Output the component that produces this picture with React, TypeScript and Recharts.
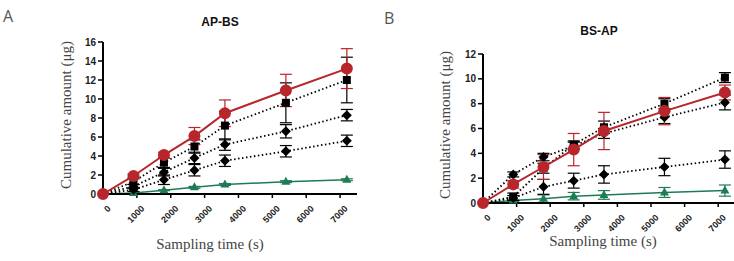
import React from "react";
import { LineChart, Line, XAxis, YAxis, ErrorBar } from "recharts";

const times = [0, 900, 1800, 2700, 3600, 5400, 7200];
const xTicks = [0, 1000, 2000, 3000, 4000, 5000, 6000, 7000];

// panel A: AP-BS
const apRed = [0, 1.9, 4.1, 6.1, 8.5, 10.9, 13.2];
const apRedErr = [0, 0.2, 0.3, 0.9, 1.4, 1.7, 2.1];
const apSquare = [0, 1.3, 3.3, 5.0, 7.2, 9.6, 12.0];
const apSquareErr = [0, 0.3, 0.5, 0.7, 1.5, 2.1, 2.4];
const apDiamond1 = [0, 0.8, 2.3, 3.8, 5.2, 6.6, 8.3];
const apDiamond1Err = [0, 0.2, 0.4, 0.6, 0.6, 0.7, 0.6];
const apDiamond2 = [0, 0.45, 1.5, 2.5, 3.5, 4.5, 5.6];
const apDiamond2Err = [0, 0.2, 0.5, 0.6, 0.6, 0.6, 0.6];
const apGreen = [0, 0.1, 0.4, 0.7, 1.0, 1.3, 1.5];
const apGreenErr = [0, 0, 0.05, 0.1, 0.1, 0.1, 0.1];
const apTicks = [0, 2, 4, 6, 8, 10, 12, 14, 16];

// panel B: BS-AP
const bsRed = [0, 1.5, 2.9, 4.3, 5.8, 7.4, 8.9];
const bsRedErr = [0, 0.3, 1.0, 1.3, 1.5, 1.1, 0.6];
const bsSquare = [0, 0.5, 2.8, 4.7, 6.1, 8.0, 10.1];
const bsSquareErr = [0, 0.3, 0.4, 0.3, 0.5, 0.4, 0.4];
const bsDiamond1 = [0, 2.3, 3.7, 4.6, 5.6, 6.9, 8.1];
const bsDiamond1Err = [0, 0.2, 0.3, 0.3, 0.4, 0.5, 0.6];
const bsDiamond2 = [0, 0.4, 1.3, 1.8, 2.3, 2.9, 3.5];
const bsDiamond2Err = [0, 0.2, 0.6, 0.6, 0.7, 0.7, 0.7];
const bsGreen = [0, 0.2, 0.35, 0.55, 0.65, 0.85, 1.0];
const bsGreenErr = [0, 0.05, 0.3, 0.3, 0.35, 0.4, 0.45];
const bsTicks = [0, 2, 4, 6, 8, 10, 12];

const RED = "#b8262b";
const GREEN = "#1e7c55";
const SANS = "Arial, 'Liberation Sans', sans-serif";
const SERIF = "'Liberation Serif', 'Times New Roman', serif";

function buildRows(r: number[], re: number[], s: number[], se: number[], d1: number[], d1e: number[], d2: number[], d2e: number[], g: number[], ge: number[]) {
  return times.map((t, i) => ({
    t,
    red: r[i], redErr: re[i],
    sq: s[i], sqErr: se[i],
    d1: d1[i], d1Err: d1e[i],
    d2: d2[i], d2Err: d2e[i],
    gr: g[i], grErr: ge[i],
  }));
}

const rowsA = buildRows(apRed, apRedErr, apSquare, apSquareErr, apDiamond1, apDiamond1Err, apDiamond2, apDiamond2Err, apGreen, apGreenErr);
const rowsB = buildRows(bsRed, bsRedErr, bsSquare, bsSquareErr, bsDiamond1, bsDiamond1Err, bsDiamond2, bsDiamond2Err, bsGreen, bsGreenErr);

const squareDot = (p: any) =>
  p.cx == null ? <g key={p.index} /> : <rect key={p.index} x={p.cx - 4} y={p.cy - 4} width={8} height={8} fill="#000" />;
const diamondDot = (p: any) =>
  p.cx == null ? <g key={p.index} /> : (
    <polygon key={p.index} points={`${p.cx},${p.cy - 5} ${p.cx + 5},${p.cy} ${p.cx},${p.cy + 5} ${p.cx - 5},${p.cy}`} fill="#000" />
  );
const triDot = (p: any) =>
  p.cx == null ? <g key={p.index} /> : (
    <polygon key={p.index} points={`${p.cx},${p.cy - 5} ${p.cx + 4.5},${p.cy + 3} ${p.cx - 4.5},${p.cy + 3}`} fill={GREEN} />
  );

const XTick = (p: any) => (
  <g transform={`translate(${p.x + 6},${p.y + 7})`}>
    <text x={0} y={0} dy="0.35em" textAnchor="end" transform="rotate(-45)" fontSize={9} fontWeight="bold" fontFamily={SANS} fill="#222">
      {p.payload.value}
    </text>
  </g>
);

const tickFont = { fontSize: 10, fontWeight: "bold", fontFamily: SANS, fill: "#222" };

function Panel({ rows, yMax, yTicks, width, margin }: any) {
  return (
    <LineChart width={width} height={261} data={rows} margin={margin}>
      <XAxis
        dataKey="t"
        type="number"
        domain={[0, 7500]}
        ticks={xTicks}
        height={30}
        axisLine={{ stroke: "#000", strokeWidth: 2 }}
        tickLine={{ stroke: "#000", strokeWidth: 1.5 }}
        tickSize={4}
        tick={<XTick />}
        interval={0}
      />
      <YAxis
        type="number"
        domain={[0, yMax]}
        ticks={yTicks}
        width={30}
        axisLine={{ stroke: "#000", strokeWidth: 2 }}
        tickLine={{ stroke: "#000", strokeWidth: 1.5 }}
        tickSize={5}
        tick={tickFont}
        interval={0}
      />
      <Line dataKey="gr" stroke={GREEN} strokeWidth={1.5} dot={triDot} isAnimationActive={false}>
        <ErrorBar dataKey="grErr" direction="y" width={6} stroke={GREEN} strokeWidth={1.2} />
      </Line>
      <Line dataKey="d2" stroke="#000" strokeWidth={1.8} strokeDasharray="1.5 2.5" dot={diamondDot} isAnimationActive={false}>
        <ErrorBar dataKey="d2Err" direction="y" width={6} stroke="#000" strokeWidth={1.2} />
      </Line>
      <Line dataKey="d1" stroke="#000" strokeWidth={1.8} strokeDasharray="1.5 2.5" dot={diamondDot} isAnimationActive={false}>
        <ErrorBar dataKey="d1Err" direction="y" width={6} stroke="#000" strokeWidth={1.2} />
      </Line>
      <Line dataKey="sq" stroke="#000" strokeWidth={1.8} strokeDasharray="1.5 2.5" dot={squareDot} isAnimationActive={false}>
        <ErrorBar dataKey="sqErr" direction="y" width={6} stroke="#000" strokeWidth={1.2} />
      </Line>
      <Line dataKey="red" stroke={RED} strokeWidth={2} dot={{ r: 5, fill: RED, stroke: RED }} isAnimationActive={false}>
        <ErrorBar dataKey="redErr" direction="y" width={6} stroke={RED} strokeWidth={1.2} />
      </Line>
    </LineChart>
  );
}

const abs = (s: React.CSSProperties): React.CSSProperties => ({ position: "absolute", whiteSpace: "nowrap", ...s });

export default function App() {
  const serif: React.CSSProperties = { fontFamily: SERIF, fontSize: 15, color: "#444", lineHeight: "18px" };
  const bold: React.CSSProperties = { fontFamily: SANS, fontSize: 12, fontWeight: "bold", color: "#111", lineHeight: "14px" };
  const letter: React.CSSProperties = { fontFamily: "'Open Sans', 'Liberation Sans', sans-serif", fontSize: 16, color: "#555", lineHeight: "18px" };
  return (
    <div style={{ position: "absolute", left: 0, top: 0, width: 734, height: 261, overflow: "hidden", background: "#fff" }}>
      <div style={abs({ left: 0, top: 0 })}>
        <Panel rows={rowsA} yMax={16} yTicks={apTicks} width={370} margin={{ top: 42, right: 13, bottom: 37, left: 73 }} />
      </div>
      <div style={abs({ left: 370, top: 0 })}>
        <Panel rows={rowsB} yMax={12} yTicks={bsTicks} width={370} margin={{ top: 54, right: 5, bottom: 28, left: 83 }} />
      </div>

      <div style={abs({ left: 3, top: 7, ...letter })}>A</div>
      <div style={abs({ left: 384, top: 9, ...letter })}>B</div>
      <div style={abs({ left: 170, width: 100, textAlign: "center", top: 15, ...bold })}>AP-BS</div>
      <div style={abs({ left: 549, width: 100, textAlign: "center", top: 24, ...bold })}>BS-AP</div>

      <div style={abs({ left: 110, width: 200, textAlign: "center", top: 235, ...serif })}>Sampling time (s)</div>
      <div style={abs({ left: 503, width: 200, textAlign: "center", top: 232, ...serif })}>Sampling time (s)</div>

      <div style={abs({ left: -34, width: 200, textAlign: "center", top: 106, transform: "rotate(-90deg)", ...serif })}>
        Cumulative amount (μg)
      </div>
      <div style={abs({ left: 345, width: 200, textAlign: "center", top: 116, transform: "rotate(-90deg)", ...serif })}>
        Cumulative amount (μg)
      </div>
    </div>
  );
}
